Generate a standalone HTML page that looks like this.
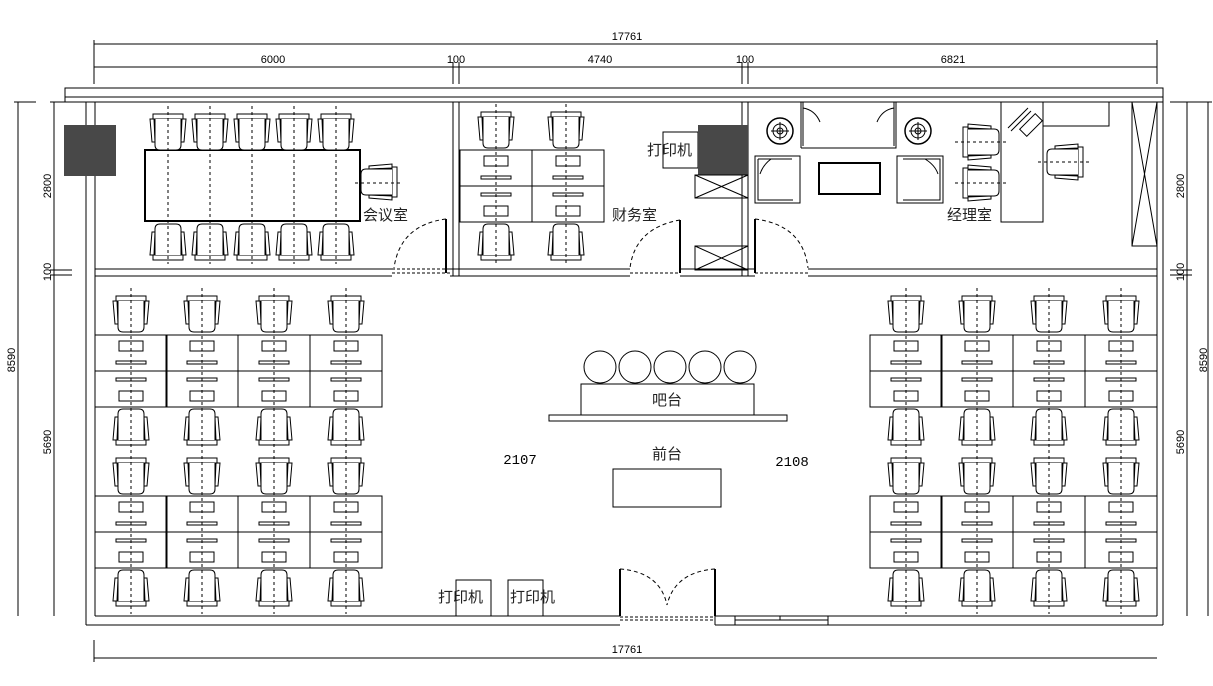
<!DOCTYPE html>
<html><head><meta charset="utf-8"><style>
html,body{margin:0;padding:0;background:#fff;}
svg{display:block;}
text{font-family:"Liberation Sans","Noto Sans CJK SC",sans-serif;}
.cn{font-family:"Liberation Sans","Noto Sans CJK SC",sans-serif;font-size:15px;fill:#222;}
.dim{font-size:11px;fill:#000;}
</style></head><body>
<svg width="1213" height="686" viewBox="0 0 1213 686" xmlns="http://www.w3.org/2000/svg" fill="none" stroke="#000" stroke-width="1">
<defs>
<g id="ch">
 <rect x="-15" y="0" width="30" height="5" fill="#fff"/>
 <path d="M-13,5 L-13,31 Q-13,36 -8,36 L8,36 Q13,36 13,31 L13,5" fill="#fff"/>
 <polygon points="-18,5 -14,5 -13,28 -16,28" fill="#fff"/>
 <polygon points="18,5 14,5 13,28 16,28" fill="#fff"/>
</g>
<g id="chd"><use href="#ch" transform="translate(0,36) scale(1,-1)"/></g>
<g id="deskT"><rect x="0" y="0" width="72" height="36"/><rect x="24" y="6" width="24" height="10"/><rect x="21" y="26" width="30" height="3"/></g>
<g id="deskB"><rect x="0" y="0" width="72" height="36"/><rect x="21" y="7" width="30" height="3"/><rect x="24" y="20" width="24" height="10"/></g>
<g id="col">
 <use href="#ch" y="296"/>
 <use href="#deskT" x="-36" y="335"/>
 <use href="#deskB" x="-36" y="371"/>
 <use href="#chd" y="409"/>
 <use href="#ch" y="458"/>
 <use href="#deskT" x="-36" y="496"/>
 <use href="#deskB" x="-36" y="532"/>
 <use href="#chd" y="570"/>
 <line x1="0" y1="288" x2="0" y2="614" stroke-dasharray="3,3"/>
</g>
</defs>

<!-- dimensions -->
<g stroke-width="1">
 <line x1="94" y1="44" x2="1157" y2="44"/>
 <line x1="94" y1="67" x2="1157" y2="67"/>
 <line x1="94" y1="40" x2="94" y2="84"/><line x1="1157" y1="40" x2="1157" y2="84"/>
 <line x1="453" y1="62" x2="453" y2="84"/><line x1="459" y1="62" x2="459" y2="84"/>
 <line x1="742" y1="62" x2="742" y2="84"/><line x1="748" y1="62" x2="748" y2="84"/>
 <line x1="94" y1="658" x2="1157" y2="658"/>
 <line x1="94" y1="640" x2="94" y2="662"/>
 <line x1="18" y1="102" x2="18" y2="616"/>
 <line x1="54" y1="102" x2="54" y2="616"/>
 <line x1="14" y1="102" x2="36" y2="102"/><line x1="50" y1="102" x2="72" y2="102"/>
 <line x1="50" y1="270" x2="72" y2="270"/><line x1="50" y1="275" x2="72" y2="275"/>
 <line x1="1187" y1="102" x2="1187" y2="616"/>
 <line x1="1208" y1="102" x2="1208" y2="616"/>
 <line x1="1170" y1="102" x2="1212" y2="102"/>
 <line x1="1170" y1="270" x2="1192" y2="270"/><line x1="1170" y1="275" x2="1192" y2="275"/>
</g>
<g stroke="none">
 <text class="dim" x="627" y="40" text-anchor="middle">17761</text>
 <text class="dim" x="273" y="63" text-anchor="middle">6000</text>
 <text class="dim" x="456" y="63" text-anchor="middle">100</text>
 <text class="dim" x="600" y="63" text-anchor="middle">4740</text>
 <text class="dim" x="745" y="63" text-anchor="middle">100</text>
 <text class="dim" x="953" y="63" text-anchor="middle">6821</text>
 <text class="dim" x="627" y="653" text-anchor="middle">17761</text>
 <text class="dim" transform="translate(15,360) rotate(-90)" text-anchor="middle">8590</text>
 <text class="dim" transform="translate(51,186) rotate(-90)" text-anchor="middle">2800</text>
 <text class="dim" transform="translate(51,272) rotate(-90)" text-anchor="middle">100</text>
 <text class="dim" transform="translate(51,442) rotate(-90)" text-anchor="middle">5690</text>
 <text class="dim" transform="translate(1184,186) rotate(-90)" text-anchor="middle">2800</text>
 <text class="dim" transform="translate(1184,272) rotate(-90)" text-anchor="middle">100</text>
 <text class="dim" transform="translate(1184,442) rotate(-90)" text-anchor="middle">5690</text>
 <text class="dim" transform="translate(1207,360) rotate(-90)" text-anchor="middle">8590</text>
</g>

<!-- walls -->
<rect x="65" y="88" width="1098" height="14"/>
<line x1="65" y1="97" x2="1163" y2="97"/>
<line x1="86" y1="102" x2="86" y2="625"/>
<line x1="95" y1="102" x2="95" y2="616"/>
<line x1="1157" y1="102" x2="1157" y2="616"/>
<line x1="1163" y1="102" x2="1163" y2="625"/>
<path d="M86,625 H620 M715,625 H1163 M95,616 H620 M715,616 H1157"/>
<path d="M715,616 V625 M735,616 V625 M735,620 H828 M780,616 V620 M828,616 V625"/>
<line x1="620" y1="569" x2="620" y2="616" stroke-width="2"/>
<line x1="715" y1="569" x2="715" y2="616" stroke-width="2"/>
<path d="M620,569 Q660,572 667,605 M715,569 Q675,572 667,605" stroke-dasharray="4,3"/>
<path d="M620,617 H715 M620,620 H715" stroke-dasharray="3,2"/>

<!-- corridor wall -->
<path d="M95,269 H392 M95,276 H392 M450,269 H630 M450,276 H630 M680,269 H755 M680,276 H755 M808,269 H1157 M808,276 H1157"/>
<path d="M392,269 H450 M392,273 H450 M630,273 H680 M755,273 H808" stroke-dasharray="3,2"/>
<path d="M453,102 V276 M459,102 V276 M742,102 V276 M748,102 V276"/>
<line x1="446" y1="219" x2="446" y2="273" stroke-width="2"/>
<path d="M446,219 Q400,225 394,268" stroke-dasharray="4,3"/>
<line x1="680" y1="220" x2="680" y2="273" stroke-width="2"/>
<path d="M680,220 Q635,228 630,268" stroke-dasharray="4,3"/>
<line x1="755" y1="219" x2="755" y2="273" stroke-width="2"/>
<path d="M755,219 Q803,225 808,268" stroke-dasharray="4,3"/>

<rect x="64" y="125" width="52" height="51" fill="#484848" stroke="none"/>

<!-- conference -->
<rect x="145" y="150" width="215" height="71" stroke-width="2"/>
<g>
 <use href="#ch" x="168" y="114"/><use href="#ch" x="210" y="114"/><use href="#ch" x="252" y="114"/><use href="#ch" x="294" y="114"/><use href="#ch" x="336" y="114"/>
 <use href="#chd" x="168" y="224"/><use href="#chd" x="210" y="224"/><use href="#chd" x="252" y="224"/><use href="#chd" x="294" y="224"/><use href="#chd" x="336" y="224"/>
 <path d="M168,106 V264 M210,106 V264 M252,106 V264 M294,106 V264 M336,106 V264" stroke-dasharray="3,3"/>
 <use href="#ch" transform="translate(397,182) rotate(90)"/>
 <line x1="355" y1="183" x2="402" y2="183" stroke-dasharray="3,3"/>
</g>
<text class="cn" x="363" y="220" stroke="none">会议室</text>

<!-- finance -->
<use href="#ch" x="496" y="112"/><use href="#ch" x="566" y="112"/>
<use href="#deskT" x="460" y="150"/><use href="#deskT" x="532" y="150"/>
<use href="#deskB" x="460" y="186"/><use href="#deskB" x="532" y="186"/>
<use href="#chd" x="496" y="224"/><use href="#chd" x="566" y="224"/>
<path d="M496,104 V266 M566,104 V266" stroke-dasharray="3,3"/>
<text class="cn" x="612" y="220" stroke="none">财务室</text>
<rect x="663" y="132" width="35" height="36"/>
<rect x="698" y="125" width="50" height="50" fill="#484848" stroke="none"/>
<text class="cn" x="647" y="155" stroke="none">打印机</text>
<rect x="695" y="175" width="53" height="23"/><path d="M695,175 L748,198 M748,175 L695,198"/>
<rect x="695" y="246" width="53" height="24"/><path d="M695,246 L748,270 M748,246 L695,270"/>

<!-- manager -->
<g>
 <circle cx="780" cy="131" r="13" stroke-width="1.5"/><circle cx="780" cy="131" r="7"/><circle cx="780" cy="131" r="3"/><path d="M771,131 H789 M780,122 V140"/>
 <circle cx="918" cy="131" r="13" stroke-width="1.5"/><circle cx="918" cy="131" r="7"/><circle cx="918" cy="131" r="3"/><path d="M909,131 H927 M918,122 V140"/>
 <path d="M801,148 V102 H896 V148 H801 M803,102 V146 M894,102 V146"/>
 <path d="M803,108 Q815,110 820,122 M894,108 Q882,110 877,122"/>
 <path d="M755,156 H800 V203 H755 Z M758,159 H792 M758,159 V200 H793"/>
 <path d="M771,159 Q763,165 760,174"/>
 <path d="M897,156 H943 V203 H897 Z M903,159 H940 V200 H903"/>
 <path d="M925,159 Q935,165 938,174"/>
 <rect x="819" y="163" width="61" height="31" stroke-width="2"/>
 <rect x="1001" y="102" width="42" height="120"/>
 <rect x="1043" y="102" width="66" height="24"/>
 <path d="M1008,128 L1028,108 M1011,131 L1031,111"/>
 <rect x="1020" y="120" width="22" height="10" transform="rotate(-45 1031 125)"/>
 <use href="#ch" transform="translate(963,142) rotate(-90)"/>
 <use href="#ch" transform="translate(963,183) rotate(-90)"/>
 <path d="M955,142 H1008 M955,183 H1008" stroke-dasharray="3,3"/>
 <use href="#ch" transform="translate(1083,162) rotate(90)"/>
 <line x1="1038" y1="162" x2="1090" y2="162" stroke-dasharray="3,3"/>
 <rect x="1132" y="102" width="25" height="144"/><path d="M1132,102 L1157,246 M1157,102 L1132,246"/>
</g>
<text class="cn" x="947" y="220" stroke="none">经理室</text>

<!-- workstations -->
<use href="#col" x="131"/><use href="#col" x="202"/><use href="#col" x="274"/><use href="#col" x="346"/>
<use href="#col" x="906"/><use href="#col" x="977"/><use href="#col" x="1049"/><use href="#col" x="1121"/>

<!-- bar -->
<circle cx="600" cy="367" r="16"/><circle cx="635" cy="367" r="16"/><circle cx="670" cy="367" r="16"/><circle cx="705" cy="367" r="16"/><circle cx="740" cy="367" r="16"/>
<rect x="581" y="384" width="173" height="31" fill="#fff"/>
<rect x="549" y="415" width="238" height="6"/>
<text class="cn" x="667" y="405" text-anchor="middle" stroke="none">吧台</text>
<text class="cn" x="667" y="459" text-anchor="middle" stroke="none">前台</text>
<rect x="613" y="469" width="108" height="38"/>
<text x="520" y="464" text-anchor="middle" stroke="none" fill="#000" style="font-family:'Liberation Mono',monospace;font-size:14px">2107</text>
<text x="792" y="466" text-anchor="middle" stroke="none" fill="#000" style="font-family:'Liberation Mono',monospace;font-size:14px">2108</text>

<rect x="456" y="580" width="35" height="36"/>
<rect x="508" y="580" width="35" height="36"/>
<text class="cn" x="438" y="602" stroke="none">打印机</text>
<text class="cn" x="510" y="602" stroke="none">打印机</text>
</svg>
</body></html>
